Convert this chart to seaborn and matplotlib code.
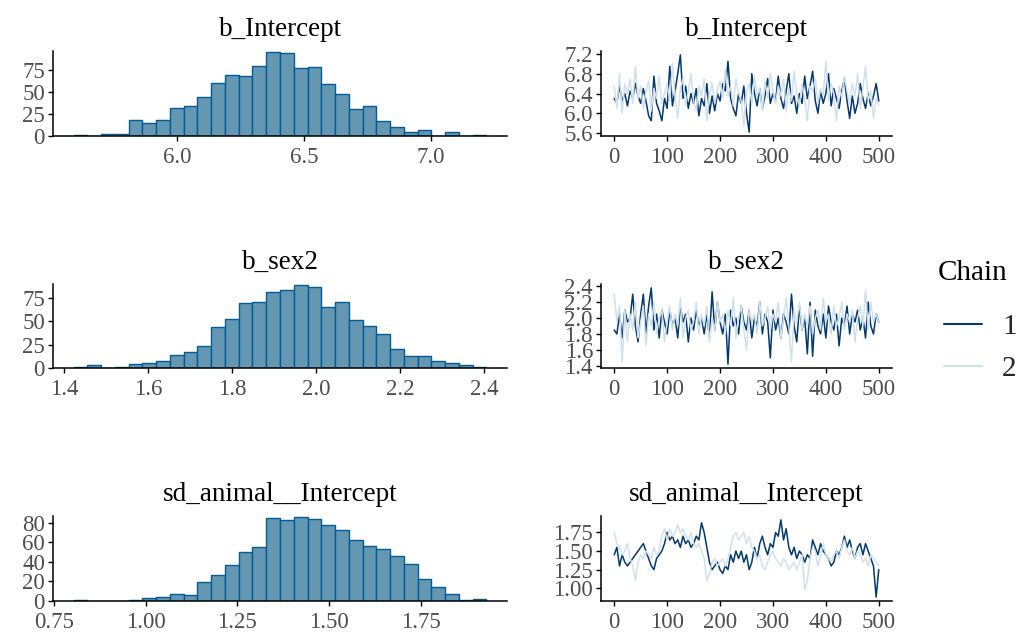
import numpy as np
import pandas as pd
import matplotlib
matplotlib.use("Agg")
import matplotlib.pyplot as plt
from matplotlib.ticker import FormatStrFormatter
from matplotlib.lines import Line2D
import seaborn as sns

# ---------------- data ----------------
params = ["b_Intercept", "b_sex2", "sd_animal__Intercept"]

# histogram bin ranges (first edge, last edge) and counts (30 bins)
hist_range_intercept = (5.591, 7.220)
hist_counts_intercept = [1, 0, 2, 2, 18, 15, 18, 32, 34, 44, 60, 69, 68, 79, 95,
                         94, 77, 78, 59, 47, 30, 34, 17, 10, 5, 7, 0, 4, 0, 1]
hist_range_sex2 = (1.422, 2.405)
hist_counts_sex2 = [1, 3, 0, 1, 4, 5, 7, 14, 17, 24, 44, 52, 70, 71, 81,
                    84, 89, 87, 65, 71, 51, 45, 36, 20, 13, 13, 8, 5, 3, 1]
hist_range_sd = (0.804, 1.929)
hist_counts_sd = [1, 0, 0, 0, 1, 3, 4, 7, 6, 19, 27, 37, 50, 55, 85,
                  83, 86, 84, 78, 73, 62, 56, 53, 46, 38, 22, 14, 7, 1, 2]

hist_xticks_intercept = [6.0, 6.5, 7.0]
hist_xticks_sex2 = [1.4, 1.6, 1.8, 2.0, 2.2, 2.4]
hist_xticks_sd = [0.75, 1.00, 1.25, 1.50, 1.75]
hist_yticks_intercept = [0, 25, 50, 75]
hist_yticks_sex2 = [0, 25, 50, 75]
hist_yticks_sd = [0, 20, 40, 60, 80]

# trace values (every ~5th iteration), chain 1 and chain 2
trace_intercept_c1 = [6.30, 6.20, 6.55, 6.25, 6.40, 6.15, 6.45, 6.30, 6.60, 6.35,
                      6.20, 6.50, 6.25, 5.95, 5.85, 6.75, 6.20, 6.05, 5.85, 6.30,
                      6.10, 6.95, 6.15, 6.45, 6.80, 7.18, 6.30, 6.55, 6.10, 6.40,
                      6.20, 6.50, 5.95, 6.30, 6.15, 6.60, 6.00, 6.35, 6.05, 6.40,
                      6.25, 6.60, 6.45, 7.05, 6.30, 6.10, 5.95, 6.40, 6.20, 6.55,
                      6.00, 5.62, 6.80, 6.40, 6.15, 6.50, 6.10, 6.35, 6.70, 6.20,
                      6.40, 6.25, 6.75, 6.30, 6.10, 6.45, 6.80, 6.20, 6.35, 6.00,
                      6.40, 6.20, 6.75, 6.30, 6.55, 6.85, 6.25, 6.00, 6.45, 6.20,
                      6.40, 6.80, 6.15, 6.50, 6.30, 6.10, 6.45, 6.70, 6.25, 5.90,
                      6.35, 6.00, 6.20, 6.60, 6.30, 6.10, 6.40, 6.15, 6.35, 6.60,
                      6.25]
trace_intercept_c2 = [6.55, 6.10, 6.80, 6.00, 6.60, 6.40, 6.70, 6.20, 6.95, 6.30,
                      6.55, 6.10, 6.45, 6.65, 6.05, 6.50, 6.30, 6.75, 6.20, 6.40,
                      6.60, 6.25, 7.00, 6.35, 5.90, 6.50, 6.70, 6.15, 6.45, 6.80,
                      6.25, 6.05, 6.55, 6.35, 6.70, 5.85, 6.40, 6.60, 6.20, 6.45,
                      6.65, 6.30, 6.90, 6.35, 6.55, 6.15, 6.70, 6.40, 6.25, 5.75,
                      6.45, 6.60, 6.20, 6.75, 6.35, 6.50, 6.05, 6.65, 6.30, 6.80,
                      6.45, 6.20, 6.55, 6.35, 6.70, 6.05, 6.50, 6.25, 6.85, 6.40,
                      6.15, 6.60, 6.30, 5.85, 6.55, 6.45, 6.70, 6.20, 6.50, 6.35,
                      7.05, 6.25, 6.60, 6.40, 5.85, 6.55, 6.30, 6.75, 6.45, 6.20,
                      6.60, 6.35, 6.80, 6.10, 6.50, 6.95, 6.25, 6.45, 5.90, 6.30,
                      6.15]
trace_sex2_c1 = [1.85, 1.80, 2.05, 1.75, 2.10, 1.95, 2.00, 2.30, 1.90, 1.70,
                 2.05, 2.30, 1.80, 2.15, 2.38, 1.85, 2.05, 1.75, 2.10, 1.95,
                 1.80, 2.10, 1.90, 2.00, 1.75, 2.15, 1.95, 2.05, 1.70, 2.00,
                 1.85, 2.10, 1.90, 2.00, 1.80, 2.05, 1.75, 2.33, 1.85, 2.20,
                 1.95, 1.80, 2.05, 1.42, 2.10, 1.90, 2.00, 1.80, 2.15, 1.95,
                 1.85, 2.10, 1.75, 2.00, 1.90, 2.20, 1.80, 2.05, 1.95, 1.50,
                 2.10, 1.85, 2.00, 1.75, 2.05, 1.95, 1.80, 2.30, 1.90, 1.70,
                 2.15, 1.85, 2.00, 1.55, 2.20, 1.52, 2.10, 1.90, 1.80, 2.05,
                 1.75, 2.15, 1.95, 1.85, 2.05, 1.65, 2.00, 1.90, 2.15, 1.80,
                 2.05, 1.95, 2.10, 1.85, 2.00, 1.75, 2.20, 1.90, 1.80, 2.05,
                 1.95]
trace_sex2_c2 = [2.30, 1.95, 2.15, 1.45, 2.10, 1.70, 2.05, 1.85, 2.20, 1.75,
                 1.95, 2.15, 1.65, 2.05, 1.90, 2.20, 1.80, 2.00, 2.10, 1.70,
                 1.95, 2.15, 1.85, 2.05, 1.90, 2.25, 1.75, 2.00, 2.10, 1.85,
                 1.95, 2.20, 1.80, 2.05, 1.90, 2.15, 1.70, 2.00, 1.85, 2.20,
                 1.95, 2.05, 1.80, 2.10, 1.90, 2.25, 1.75, 2.00, 2.15, 1.85,
                 1.60, 2.10, 1.95, 2.05, 1.80, 2.20, 1.90, 2.00, 2.15, 1.85,
                 2.05, 1.95, 2.20, 1.75, 2.00, 2.25, 1.90, 1.45, 2.10, 1.95,
                 2.20, 1.85, 2.05, 1.90, 2.15, 1.80, 2.00, 2.10, 1.85, 2.25,
                 1.95, 2.05, 1.80, 2.15, 1.90, 2.00, 2.20, 1.85, 2.05, 1.95,
                 2.10, 1.70, 2.00, 2.15, 1.90, 2.35, 1.85, 2.20, 1.95, 2.05,
                 1.95]
trace_sd_c1 = [1.45, 1.55, 1.30, 1.45, 1.35, 1.30, 1.35, 1.40, 1.45, 1.50,
               1.55, 1.60, 1.50, 1.40, 1.30, 1.25, 1.40, 1.45, 1.50, 1.60,
               1.75, 1.65, 1.70, 1.60, 1.65, 1.55, 1.70, 1.60, 1.65, 1.55,
               1.60, 1.70, 1.65, 1.88, 1.75, 1.55, 1.35, 1.25, 1.30, 1.35,
               1.25, 1.20, 1.30, 1.25, 1.45, 1.35, 1.50, 1.40, 1.50, 1.35,
               1.45, 1.25, 1.35, 1.55, 1.40, 1.60, 1.70, 1.55, 1.45, 1.60,
               1.55, 1.75, 1.70, 1.92, 1.65, 1.80, 1.55, 1.45, 1.55, 1.40,
               1.50, 1.45, 1.35, 1.45, 1.40, 1.65, 1.55, 1.45, 1.60, 1.50,
               1.45, 1.40, 1.30, 1.35, 1.50, 1.45, 1.55, 1.70, 1.55, 1.65,
               1.50, 1.40, 1.55, 1.60, 1.45, 1.60, 1.50, 1.40, 1.30, 0.88,
               1.25]
trace_sd_c2 = [1.75, 1.60, 1.55, 1.45, 1.50, 1.60, 1.40, 1.30, 1.10, 1.35,
               1.45, 1.40, 1.50, 1.45, 1.40, 1.55, 1.45, 1.50, 1.70, 1.80,
               1.65, 1.80, 1.70, 1.75, 1.85, 1.75, 1.80, 1.70, 1.65, 1.75,
               1.60, 1.55, 1.60, 1.50, 1.40, 1.10, 1.20, 1.35, 1.40, 1.30,
               1.35, 1.40, 1.30, 1.40, 1.55, 1.70, 1.75, 1.65, 1.70, 1.75,
               1.60, 1.70, 1.55, 1.50, 1.40, 1.45, 1.30, 1.25, 1.35, 1.45,
               1.50, 1.40, 1.35, 1.30, 1.40, 1.35, 1.25, 1.30, 1.35, 1.25,
               1.35, 1.45, 0.98, 1.10, 1.40, 1.55, 1.50, 1.30, 1.45, 1.60,
               1.45, 1.40, 1.35, 1.45, 1.50, 1.40, 1.55, 1.65, 1.50, 1.45,
               1.55, 1.40, 1.50, 1.45, 1.35, 1.40, 1.30, 1.45, 1.40, 1.35,
               1.30]

trace_yticks_intercept = [5.6, 6.0, 6.4, 6.8, 7.2]
trace_yticks_sex2 = [1.4, 1.6, 1.8, 2.0, 2.2, 2.4]
trace_yticks_sd = [1.00, 1.25, 1.50, 1.75]
trace_xticks = [0, 100, 200, 300, 400, 500]
n_iter = 500
chains = ["1", "2"]
legend_title = "Chain"

# ---------------- style ----------------
fill_col = "#6497b1"
edge_col = "#005b96"
chain_cols = {"1": "#03396c", "2": "#d1e1ec"}
tick_col = "#4d4d4d"

sns.set_theme(style="ticks")
plt.rcParams["font.family"] = ["Liberation Serif", "DejaVu Serif"]
plt.rcParams["axes.linewidth"] = 1.1
plt.rcParams["xtick.major.width"] = 1.0
plt.rcParams["ytick.major.width"] = 1.0
plt.rcParams["xtick.major.size"] = 3.8
plt.rcParams["ytick.major.size"] = 3.8

W, H = 1021, 638
fig = plt.figure(figsize=(W / 100, H / 100), dpi=100)


def px_axes(left, right, top, bottom):
    return fig.add_axes([left / W, 1 - bottom / H, (right - left) / W, (bottom - top) / H])


rows = [(51, 136), (284, 368), (516, 601)]
hist_specs = [
    (hist_range_intercept, hist_counts_intercept, hist_xticks_intercept, hist_yticks_intercept, "%.1f"),
    (hist_range_sex2, hist_counts_sex2, hist_xticks_sex2, hist_yticks_sex2, "%.1f"),
    (hist_range_sd, hist_counts_sd, hist_xticks_sd, hist_yticks_sd, "%.2f"),
]
trace_specs = [
    (trace_intercept_c1, trace_intercept_c2, trace_yticks_intercept, "%.1f"),
    (trace_sex2_c1, trace_sex2_c2, trace_yticks_sex2, "%.1f"),
    (trace_sd_c1, trace_sd_c2, trace_yticks_sd, "%.2f"),
]

tick_fs = 16.5
title_fs = 19.5


def style_axes(ax):
    sns.despine(ax=ax)
    for s in ["left", "bottom"]:
        ax.spines[s].set_color("black")
    ax.tick_params(axis="both", colors="black", labelcolor=tick_col, labelsize=tick_fs, pad=2)
    ax.tick_params(axis="x", pad=4)
    ax.set_xlabel("")
    ax.set_ylabel("")
    ax.grid(False)


line_handles = [Line2D([0], [0], color=chain_cols[c], lw=1.5) for c in chains]
for i, (top, bottom) in enumerate(rows):
    # histogram
    (lo, hi), counts, xt, yt, fmt = hist_specs[i]
    edges = [float(e) for e in np.linspace(lo, hi, len(counts) + 1)]
    centers = [(edges[k] + edges[k + 1]) / 2 for k in range(len(counts))]
    hdf = pd.DataFrame({"value": centers, "count": [float(c) for c in counts]})
    ax = px_axes(53, 507, top, bottom)
    sns.histplot(data=hdf, x="value", weights="count", bins=edges, ax=ax, color=fill_col,
                 edgecolor=edge_col, linewidth=1.0, alpha=1.0)
    span = hi - lo
    ax.set_xlim(lo - 0.05 * span, hi + 0.05 * span)
    ax.set_ylim(0, max(counts) * 1.01)
    ax.set_xticks(xt)
    ax.set_yticks(yt)
    ax.xaxis.set_major_formatter(FormatStrFormatter(fmt))
    style_axes(ax)
    ax.set_title(params[i], fontsize=title_fs, pad=11, color="black")

    # trace
    c1, c2, yt2, fmt2 = trace_specs[i]
    df = pd.DataFrame({
        "iteration": np.concatenate([np.linspace(1, n_iter, len(c1)), np.linspace(1, n_iter, len(c2))]),
        "value": np.concatenate([c1, c2]),
        "Chain": ["1"] * len(c1) + ["2"] * len(c2),
    })
    ax2 = px_axes(601, 892, top, bottom)
    sns.lineplot(data=df, x="iteration", y="value", hue="Chain", hue_order=chains,
                 palette=chain_cols, linewidth=1.1, ax=ax2, estimator=None, sort=False)
    if ax2.get_legend() is not None:
        ax2.get_legend().remove()
    ax2.margins(x=0.05, y=0.05)
    ax2.set_xticks(trace_xticks)
    ax2.set_yticks(yt2)
    ax2.yaxis.set_major_formatter(FormatStrFormatter(fmt2))
    style_axes(ax2)
    ax2.set_title(params[i], fontsize=title_fs, pad=11, color="black")

fig.text(938 / W, 1 - 273 / H, legend_title, fontsize=21, color="black",
         ha="left", va="center")
leg = fig.legend(line_handles, chains, loc="center left",
                 bbox_to_anchor=(938 / W, 1 - 348 / H), frameon=False,
                 fontsize=21, handlelength=1.3, handletextpad=0.7,
                 labelspacing=0.55, borderaxespad=0, borderpad=0.2)

fig.savefig("out.png", dpi=100)
